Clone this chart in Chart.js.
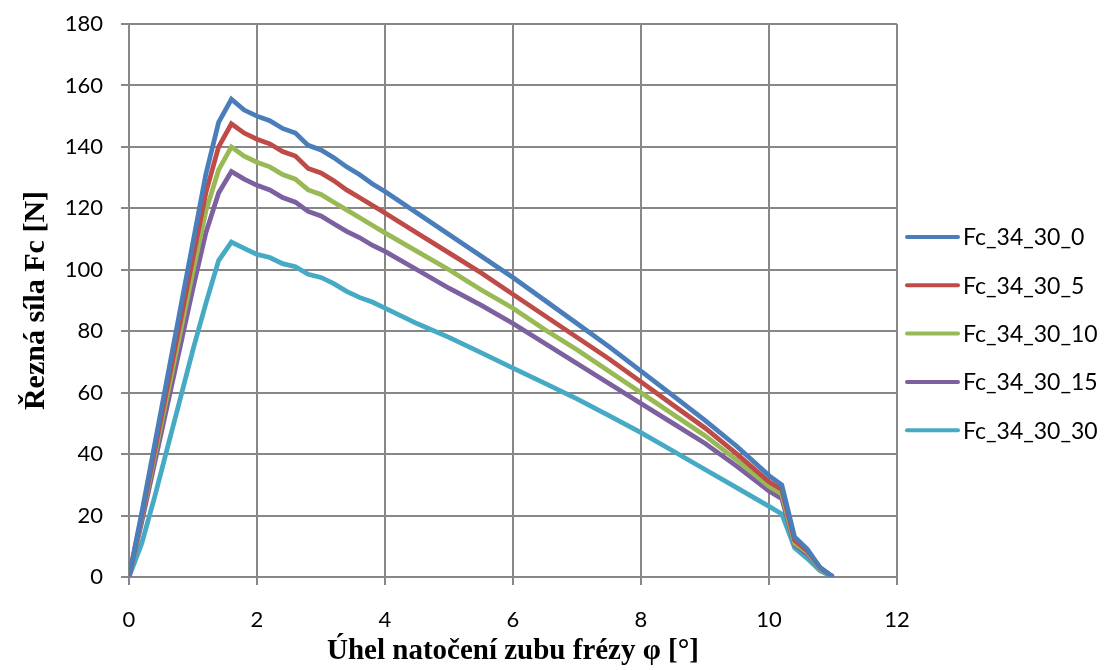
<!DOCTYPE html>
<html>
<head>
<meta charset="utf-8">
<script src="https://cdn.jsdelivr.net/npm/chart.js@4/dist/chart.umd.min.js"></script>
<style>
  html, body { margin: 0; padding: 0; background: #fff; }
  #wrap { width: 1117px; height: 670px; }
</style>
</head>
<body>
<div id="wrap"><canvas id="myChart" width="1117" height="670"></canvas></div>
<script>
const angles = [0, 0.2, 0.4, 0.6, 0.8, 1.0, 1.2, 1.4, 1.6, 1.8, 2.0, 2.2, 2.4, 2.6, 2.8, 3.0, 3.2, 3.4, 3.6, 3.8, 4.0, 4.5, 5.0, 5.5, 6.0, 6.5, 7.0, 7.5, 8.0, 8.5, 9.0, 9.5, 10.0, 10.2, 10.4, 10.6, 10.8, 11.0];

const fc0  = [0, 21, 43, 65, 87, 109, 131, 148, 155.5, 152, 150, 148.5, 146, 144.5, 140.5, 139, 136.5, 133.5, 131, 128, 125.5, 118.5, 111.5, 104.5, 97.5, 90, 82.5, 75, 67, 59, 51, 42.5, 33, 30, 13, 9, 3, 0];
const fc5  = [0, 20, 41, 62, 83, 104, 125, 140, 147.5, 144.5, 142.5, 141, 138.5, 137, 133, 131.5, 129, 126, 123.5, 121, 118.5, 112, 105.5, 99, 92, 85, 78, 71, 63.5, 56, 48.5, 40, 31, 28.5, 12, 8.5, 3, 0];
const fc10 = [0, 19.5, 39.5, 59.5, 79.5, 99.5, 119, 132.5, 140, 137, 135, 133.5, 131, 129.5, 126, 124.5, 122, 119.5, 117, 114.5, 112, 106, 100, 93.5, 87.5, 80.5, 74, 67, 60, 53, 46, 38, 29.5, 27, 11, 8, 2.5, 0];
const fc15 = [0, 18, 37, 56, 75, 94, 112, 125, 132, 129.5, 127.5, 126, 123.5, 122, 119, 117.5, 115, 112.5, 110.5, 108, 106, 100, 94, 88.5, 82.5, 76, 69.5, 63, 56.5, 50, 43.5, 36, 28, 25.5, 10.5, 7.5, 2.5, 0];
const fc30 = [0, 11, 26, 42, 58, 74, 89, 103, 109, 107, 105, 104, 102, 101, 98.5, 97.5, 95.5, 93, 91, 89.5, 87.5, 82.5, 78, 73, 68, 63, 58, 52.5, 47, 41, 35, 29, 23, 20.5, 9.5, 6, 2, 0];

const seriesNames = ["Fc_34_30_0", "Fc_34_30_5", "Fc_34_30_10", "Fc_34_30_15", "Fc_34_30_30"];
const seriesValues = [fc0, fc5, fc10, fc15, fc30];
const colors = ["#4a7ebb", "#be4b48", "#98b954", "#7d60a0", "#46aac5"];

const tickFont = { family: "Lato, 'Open Sans', sans-serif", size: 22 };
const titleFamily = "'Liberation Serif', 'DejaVu Serif', serif";

function toPoints(values) {
  return values.map((v, i) => ({ x: angles[i], y: v }));
}

// legend on the right, drawn by hand so the spacing matches
const sideLegend = {
  id: "sideLegend",
  afterDraw(chart) {
    const c = chart.ctx;
    c.save();
    chart.data.datasets.forEach((ds, i) => {
      const y = 237 + i * 48.3;
      c.strokeStyle = ds.borderColor;
      c.lineWidth = 4;
      c.lineCap = "round";
      c.beginPath();
      c.moveTo(907, y);
      c.lineTo(958, y);
      c.stroke();
      c.fillStyle = "#000";
      c.font = "23px Lato, 'Open Sans', sans-serif";
      c.textBaseline = "middle";
      c.fillText(ds.label, 963, y + 1);
    });
    c.restore();
  },
};

let ctx = document.getElementById("myChart").getContext("2d");
let myChart = new Chart(ctx, {
  type: "line",
  data: {
    datasets: seriesNames.map((name, i) => ({
      label: name,
      data: toPoints(seriesValues[i]),
      borderColor: colors[i],
      backgroundColor: colors[i],
      borderWidth: 4.75,
      pointRadius: 0,
      tension: 0,
      fill: false,
    })),
  },
  options: {
    responsive: false,
    animation: false,
    layout: { padding: { top: 24, right: 220, bottom: 0, left: 8 } },
    plugins: {
      legend: { display: false },
      tooltip: { enabled: false },
    },
    scales: {
      x: {
        type: "linear",
        min: 0,
        max: 12,
        ticks: { stepSize: 2, color: "#000", font: tickFont, padding: 22 },
        grid: { color: "#878787", lineWidth: 2, tickLength: 8 },
        border: { color: "#878787", width: 2 },
        title: {
          display: true,
          text: "Úhel natočení zubu frézy φ [°]",
          color: "#000",
          font: { family: titleFamily, size: 29, weight: "bold" },
          padding: { top: 0, bottom: 1 },
        },
        afterFit(scale) { scale.height = 93; },
      },
      y: {
        min: 0,
        max: 180,
        ticks: { stepSize: 20, color: "#000", font: tickFont, padding: 18 },
        grid: { color: "#878787", lineWidth: 2, tickLength: 8 },
        border: { color: "#878787", width: 2 },
        title: {
          display: true,
          text: "Řezná síla Fc [N]",
          color: "#000",
          font: { family: titleFamily, size: 30, weight: "bold" },
          padding: { top: 10, bottom: 0 },
        },
        afterFit(scale) {
          scale.width = 121;
          // tick padding would otherwise push the plot top down
          scale.paddingTop = 0;
          scale.paddingBottom = 0;
        },
      },
    },
  },
  plugins: [sideLegend],
});
</script>
</body>
</html>
